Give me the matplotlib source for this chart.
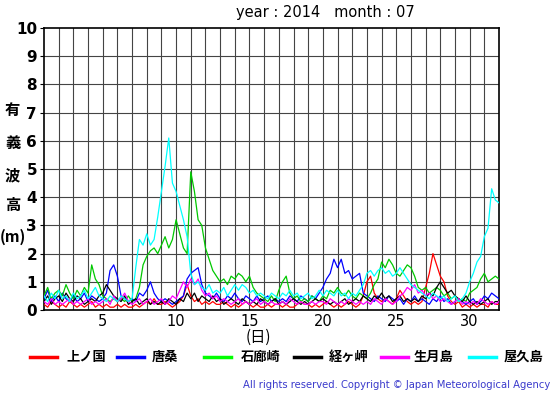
import numpy as np
import matplotlib
matplotlib.use("Agg")
import matplotlib.pyplot as plt
from matplotlib.lines import Line2D

plt.rcParams['font.family'] = ['DejaVu Sans', 'Noto Sans CJK JP']
JP = ['Noto Sans CJK JP', 'DejaVu Sans']

# 6-hourly significant wave height (m), 1 July 00h .. 32 July 00h
kaminokuni = [0.2,0.1,0.3,0.2, 0.1,0.2,0.1,0.3, 0.2,0.1,0.2,0.1, 0.2,0.3,0.1,0.2,
              0.1,0.2,0.1,0.1, 0.2,0.1,0.2,0.1, 0.1,0.2,0.1,0.2, 0.3,0.2,0.4,0.2,
              0.2,0.3,0.2,0.1, 0.2,0.3,0.5,0.9, 0.5,0.3,0.4,0.2, 0.3,0.2,0.3,0.2,
              0.2,0.3,0.2,0.1, 0.2,0.1,0.2,0.3, 0.2,0.1,0.2,0.1, 0.1,0.2,0.1,0.2,
              0.2,0.1,0.2,0.1, 0.1,0.2,0.3,0.2, 0.2,0.1,0.2,0.1, 0.2,0.3,0.2,0.1,
              0.2,0.1,0.2,0.3, 0.2,0.1,0.2,0.5, 1.0,1.2,0.6,0.4, 0.3,0.4,0.3,0.2,
              0.4,0.7,0.5,0.3, 0.2,0.3,0.2,0.3, 0.8,1.3,2.0,1.6, 1.2,1.0,0.5,0.3,
              0.2,0.3,0.1,0.2, 0.1,0.2,0.1,0.2, 0.2,0.1,0.3,0.2, 0.2]
karakuwa = [0.4,0.7,0.3,0.5, 0.3,0.6,0.4,0.3, 0.5,0.3,0.4,0.6, 0.3,0.5,0.4,0.3,
            0.4,0.6,1.4,1.6, 1.2,0.5,0.4,0.3, 0.4,0.3,0.6,0.5, 0.7,1.0,0.6,0.4,
            0.3,0.4,0.3,0.2, 0.3,0.4,0.5,1.1, 1.3,1.4,1.5,0.9, 0.6,0.5,0.4,0.6,
            0.4,0.3,0.5,0.4, 0.6,0.4,0.3,0.5, 0.4,0.3,0.5,0.3, 0.4,0.5,0.3,0.4,
            0.3,0.4,0.3,0.5, 0.4,0.3,0.5,0.4, 0.3,0.5,0.4,0.6, 0.8,1.1,1.3,1.8,
            1.5,1.8,1.3,1.4, 1.1,1.2,1.3,0.6, 0.5,0.4,0.3,0.5, 0.4,0.3,0.5,0.4,
            0.3,0.4,0.2,0.4, 0.3,0.5,0.3,0.4, 0.3,0.2,0.4,0.3, 0.5,0.3,0.4,0.2,
            0.3,0.4,0.3,0.2, 0.3,0.4,0.2,0.3, 0.5,0.4,0.6,0.5, 0.4]
irozaki = [0.5,0.8,0.4,0.6, 0.7,0.5,0.9,0.6, 0.4,0.7,0.5,0.8, 0.6,1.6,1.1,0.9,
           0.5,0.4,0.3,0.4, 0.3,0.4,0.3,0.5, 0.3,0.4,0.8,1.6, 1.9,2.1,2.2,2.0,
           2.3,2.6,2.2,2.5, 3.2,2.7,2.2,2.0, 4.9,4.2,3.2,3.0, 2.2,1.8,1.4,1.2,
           1.0,1.1,0.9,1.2, 1.1,1.3,1.2,1.0, 1.2,0.8,0.6,0.5, 0.4,0.3,0.5,0.3,
           0.7,1.0,1.2,0.6, 0.4,0.5,0.3,0.4, 0.3,0.5,0.4,0.3, 0.5,0.4,0.7,0.6,
           0.8,0.6,0.5,0.7, 0.5,0.4,0.6,0.5, 0.4,0.6,0.9,1.1, 1.7,1.5,1.8,1.6,
           1.3,1.2,1.4,1.6, 1.5,1.2,0.8,0.7, 0.8,0.6,0.7,0.8, 0.7,0.5,0.6,0.4,
           0.5,0.3,0.4,0.3, 0.6,0.7,0.8,1.1, 1.3,1.0,1.1,1.2, 1.1]
kyogamisaki = [0.3,0.5,0.2,0.4, 0.5,0.3,0.6,0.4, 0.3,0.5,0.4,0.2, 0.3,0.4,0.3,0.5,
               0.6,0.9,0.7,0.5, 0.4,0.3,0.5,0.2, 0.3,0.4,0.2,0.3, 0.4,0.2,0.3,0.2,
               0.3,0.2,0.4,0.3, 0.2,0.4,0.3,0.6, 0.4,0.6,0.3,0.5, 0.4,0.3,0.5,0.3,
               0.4,0.2,0.3,0.4, 0.3,0.2,0.4,0.3, 0.2,0.3,0.2,0.4, 0.3,0.2,0.3,0.4,
               0.2,0.3,0.2,0.3, 0.4,0.3,0.2,0.3, 0.2,0.3,0.4,0.3, 0.4,0.3,0.2,0.3,
               0.2,0.3,0.4,0.2, 0.3,0.4,0.3,0.5, 0.4,0.3,0.5,0.4, 0.6,0.4,0.5,0.3,
               0.4,0.5,0.3,0.4, 0.3,0.4,0.3,0.5, 0.4,0.6,0.5,0.8, 1.0,0.8,0.6,0.7,
               0.5,0.4,0.3,0.5, 0.3,0.2,0.3,0.2, 0.3,0.4,0.2,0.3, 0.3]
ikitsukishima = [0.3,0.2,0.4,0.2, 0.3,0.2,0.3,0.4, 0.2,0.3,0.2,0.3, 0.4,0.2,0.3,0.2,
                 0.3,0.4,0.2,0.5, 0.3,0.4,0.6,0.3, 0.2,0.3,0.4,0.2, 0.3,0.4,0.2,0.3,
                 0.4,0.2,0.3,0.5, 0.4,0.7,1.0,0.8, 1.1,0.9,1.1,0.7, 0.5,0.6,0.4,0.5,
                 0.3,0.4,0.3,0.2, 0.3,0.4,0.2,0.3, 0.2,0.3,0.4,0.2, 0.3,0.2,0.3,0.2,
                 0.2,0.3,0.2,0.4, 0.3,0.2,0.3,0.2, 0.2,0.3,0.2,0.3, 0.3,0.2,0.4,0.3,
                 0.2,0.3,0.2,0.4, 0.3,0.2,0.3,0.2, 0.3,0.2,0.4,0.3, 0.2,0.4,0.3,0.2,
                 0.3,0.5,0.6,0.8, 0.7,0.9,0.6,0.7, 0.5,0.6,0.4,0.5, 0.3,0.4,0.3,0.2,
                 0.3,0.4,0.2,0.3, 0.2,0.3,0.2,0.4, 0.3,0.2,0.3,0.2, 0.3]
yakushima = [0.5,0.3,0.6,0.4, 0.7,0.4,0.5,0.3, 0.6,0.4,0.5,0.7, 0.4,0.6,0.8,0.5,
             0.4,0.3,0.5,0.4, 0.3,0.5,0.4,0.3, 0.4,1.5,2.5,2.3, 2.7,2.3,2.5,3.3,
             4.2,5.1,6.1,4.5, 4.2,3.7,3.2,2.6, 1.3,0.9,1.0,0.8, 0.7,0.9,0.6,0.7,
             0.6,0.8,0.5,0.7, 0.9,0.7,0.9,0.8, 0.6,0.7,0.5,0.6, 0.5,0.4,0.6,0.5,
             0.4,0.6,0.5,0.7, 0.5,0.6,0.4,0.5, 0.6,0.4,0.5,0.7, 0.5,0.7,0.6,0.5,
             0.7,0.5,0.6,0.4, 0.6,0.5,0.7,0.9, 1.3,1.4,1.2,1.4, 1.5,1.3,1.4,1.2,
             1.3,1.5,1.3,1.1, 0.9,0.8,0.7,0.6, 0.5,0.4,0.6,0.5, 0.4,0.5,0.3,0.4,
             0.5,0.3,0.4,0.6, 1.0,1.3,1.7,1.9, 2.6,2.9,4.3,3.9, 3.8]

stations = ['上ノ国', '唐桑', '石廊崎', '経ヶ岬', '生月島', '屋久島']
series = [kaminokuni, karakuwa, irozaki, kyogamisaki, ikitsukishima, yakushima]
colors = ['#ff0000', '#0000ff', '#00c800', '#000000', '#ff00ff', '#00ffff']
legend_colors = ['#ff0000', '#0000ff', '#00ff00', '#000000', '#ff00ff', '#00ffff']
x_ticks = [5, 10, 15, 20, 25, 30]
y_ticks = list(range(0, 11))

W, H = 555, 395
fig = plt.figure(figsize=(W / 100, H / 100), dpi=100)
L, R, T, B = 44, 499, 28, 310
ax = fig.add_axes([L / W, 1 - B / H, (R - L) / W, (B - T) / H])

for vals, c in zip(series, colors):
    t = 1 + np.arange(len(vals)) / 4.0
    ax.plot(t, vals, color=c, lw=0.9, zorder=3)

ax.set_xlim(1, 32)
ax.set_ylim(0, 10)
for d in range(2, 32):
    ax.axvline(d, color='#444444', lw=0.8, zorder=1)
for v in range(1, 10):
    ax.axhline(v, color='#444444', lw=0.8, zorder=1)
ax.set_xticks(x_ticks)
ax.set_xticklabels([str(v) for v in x_ticks], fontsize=10.5)
ax.set_yticks(y_ticks)
ax.set_yticklabels([str(v) for v in y_ticks], fontsize=11, fontweight='bold')
ax.tick_params(axis='x', length=0, pad=3)
ax.tick_params(axis='y', length=3, pad=2)
for s in ax.spines.values():
    s.set_linewidth(1.2)
    s.set_color('black')

fig.text(325 / W, 1 - 13 / H, 'year : 2014   month : 07', ha='center', va='center', fontsize=10.5)
fig.text(258 / W, 1 - 337 / H, '(日)', ha='center', va='center', fontsize=11, family=JP)

for ch, xx, yy in zip(['有', '義', '波', '高', '(m)'], [12.5, 12.5, 12.5, 12.5, 12.5],
                      [110, 143, 175, 205, 237]):
    fig.text(xx / W, 1 - yy / H, ch, ha='center', va='center', fontsize=11,
             fontweight='bold', family=JP)

leg_x = [30, 117, 204, 294, 381, 469]
txt_x = [66, 152, 241, 329, 414, 504]
for lx, tx, name, c in zip(leg_x, txt_x, stations, legend_colors):
    fig.add_artist(Line2D([lx / W, (lx + 27) / W], [1 - 357 / H, 1 - 357 / H],
                          color=c, lw=2.5, transform=fig.transFigure))
    fig.text(tx / W, 1 - 357 / H, name, ha='left', va='center', fontsize=9.5,
             fontweight='bold', family=JP)

fig.text(550 / W, 1 - 385 / H, 'All rights reserved. Copyright © Japan Meteorological Agency',
         ha='right', va='center', fontsize=7.2, color='#3a3acc')

fig.savefig('out.png', dpi=100)
